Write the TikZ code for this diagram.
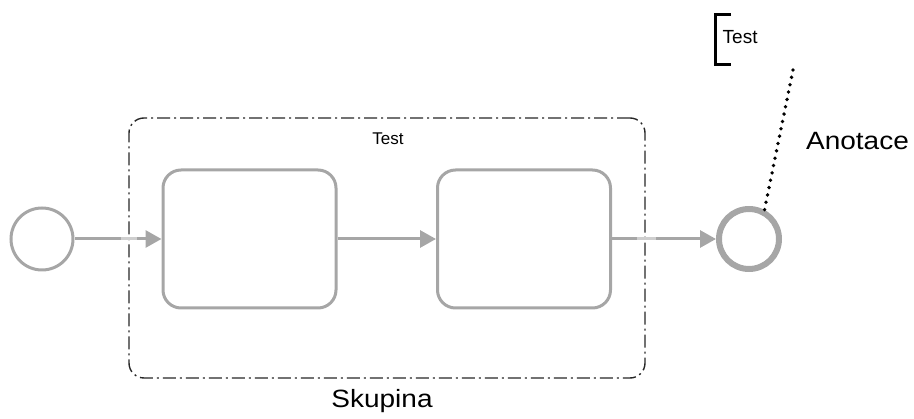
\documentclass[tikz,border=0pt]{standalone}
\usepackage{fontspec}
\setmainfont{Liberation Sans}
\newfontfamily\widesans[FakeStretch=1.12]{Liberation Sans}
\usetikzlibrary{arrows.meta}
\definecolor{flowgray}{RGB}{166,166,166}
\begin{document}
\begin{tikzpicture}[x=1pt,y=-1pt,
  flow/.style={draw=flowgray,line width=3pt},
  taskbox/.style={flow,rounded corners=18pt,minimum width=173pt,minimum height=138pt,inner sep=0pt},
  eventc/.style={flow,circle,minimum size=62pt,inner sep=0pt},
  seqflow/.style={draw=flowgray,line width=3pt,-{Triangle[length=16pt,width=17pt]}},
  groupbox/.style={draw=black!85,line width=1.4pt,rounded corners=15pt,
    dash pattern=on 13pt off 4pt on 2pt off 4pt,minimum width=516pt,minimum height=260pt,inner sep=0pt},
  crossfade/.style={draw=white,line width=3.2pt,opacity=0.45},
  smalltxt/.style={font=\fontsize{17pt}{20pt}\selectfont,inner sep=0pt},
  bigtxt/.style={font=\widesans\fontsize{25pt}{28pt}\selectfont,inner sep=0pt}]
\useasboundingbox (0,0) rectangle (914,419);
% group
\node[groupbox] (grp) at (387,248) {};
\node[smalltxt,anchor=base] (grplabel) at (388,145) {Test};
\node[bigtxt,anchor=base] (skupina) at (382,408) {Skupina};
% flow elements
\node[eventc] (start) at (42,239) {};
\node[taskbox] (t1) at (249.5,239) {};
\node[taskbox] (t2) at (524,239) {};
\node[eventc,line width=6pt,minimum size=60pt] (end) at (749,239) {};
\draw[seqflow] (start) -- (t1);
\draw[seqflow] (t1) -- (t2);
\draw[seqflow] (t2) -- (end);
% lighter stretches where the flows cross the group border
\draw[crossfade] (121,239) -- (137,239);
\draw[crossfade] (637,239) -- (656,239);
% annotation
\coordinate (bt) at (731,15);
\coordinate (bb) at (731,65);
\draw[line width=3pt] (bt) -- ++(-16,0) |- (bb);
\node[font=\fontsize{19pt}{22pt}\selectfont,inner sep=0pt,anchor=base west] (anntext) at (722.5,43.3) {Test};
\coordinate (assoc) at (793,70);
\draw[line width=3.8pt,dash pattern=on 0pt off 7.5pt,line cap=round] (assoc) -- (end.62);
\node[bigtxt,anchor=base] (anotace) at (857.5,149.3) {Anotace};
\end{tikzpicture}
\end{document}
